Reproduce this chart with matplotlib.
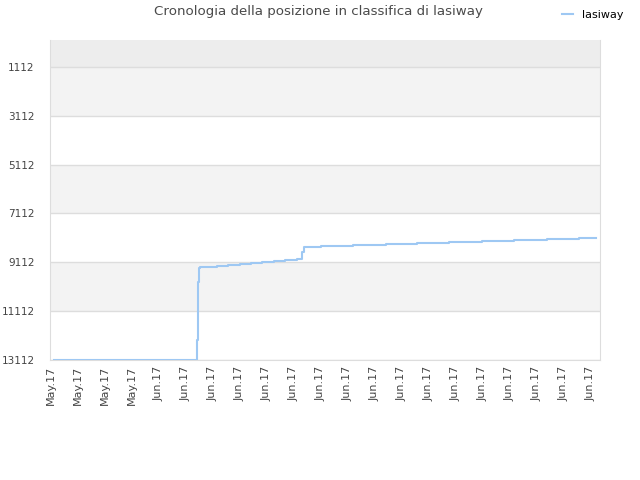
import numpy as np
import matplotlib
matplotlib.use('Agg')
from matplotlib import pyplot as plt

# data (x in tick-label units)
tick_labels = ['May.17'] * 4 + ['Jun.17'] * 17
y_ticks = [1112, 3112, 5112, 7112, 9112, 11112, 13112]

step_x = [0.13, 5.42, 5.46, 5.51, 5.55, 6.16, 6.57, 7.01, 7.42, 7.82, 8.27,
          8.67, 9.12, 9.30, 9.38, 10.01, 11.19, 12.41, 13.59, 14.77, 15.99,
          17.18, 18.40, 19.58, 20.21]
position = [13112, 12293, 9917, 9344, 9303, 9262, 9221, 9180, 9139, 9098, 9057,
            9016, 8996, 8700, 8471, 8430, 8389, 8348, 8307, 8279, 8238,
            8197, 8156, 8103, 8103]

fig = plt.figure(figsize=(6.4, 4.8), dpi=100)
ax = fig.add_axes([50 / 640, 1 - 360 / 480, 550 / 640, 320 / 480])

y_top = 10
y_bottom = 13112
ax.set_ylim(y_bottom, y_top)
ax.set_xlim(-0.02, 20.35)

# alternating background bands between gridlines
ax.axhspan(y_top, y_ticks[0], color='#ededed', lw=0, zorder=0)
for i in range(len(y_ticks) - 1):
    if i % 2 == 0:
        ax.axhspan(y_ticks[i], y_ticks[i + 1], color='#f3f3f3', lw=0, zorder=0)
for t in y_ticks:
    ax.axhline(t, color='#dddddd', lw=1, zorder=1)

ax.step(step_x, position, where='post', color='#9ec8f3', lw=1.5, zorder=3)

ax.set_yticks(y_ticks)
ax.set_yticklabels([str(t) for t in y_ticks])
ax.set_xticks(np.arange(len(tick_labels)))
ax.set_xticklabels(tick_labels, rotation=90)
ax.tick_params(axis='both', length=0, labelcolor='#444444')
ax.tick_params(axis='x', pad=4, labelsize=8)
ax.tick_params(axis='y', pad=11, labelsize=7.5)

for s in ['left', 'bottom', 'right']:
    ax.spines[s].set_color('#dddddd')
ax.spines['top'].set_visible(False)

fig.text(318 / 640, 1 - 12 / 480, 'Cronologia della posizione in classifica di lasiway',
         ha='center', va='center', fontsize=9.6, color='#4a4a4a')

fig.legend([plt.Line2D([0], [0], color='#9ec8f3', lw=1.5)], ['lasiway'],
           loc='center', bbox_to_anchor=(593 / 640, 1 - 15 / 480), frameon=False,
           fontsize=8, handlelength=1.0, handletextpad=0.8)

plt.savefig('out.png')
